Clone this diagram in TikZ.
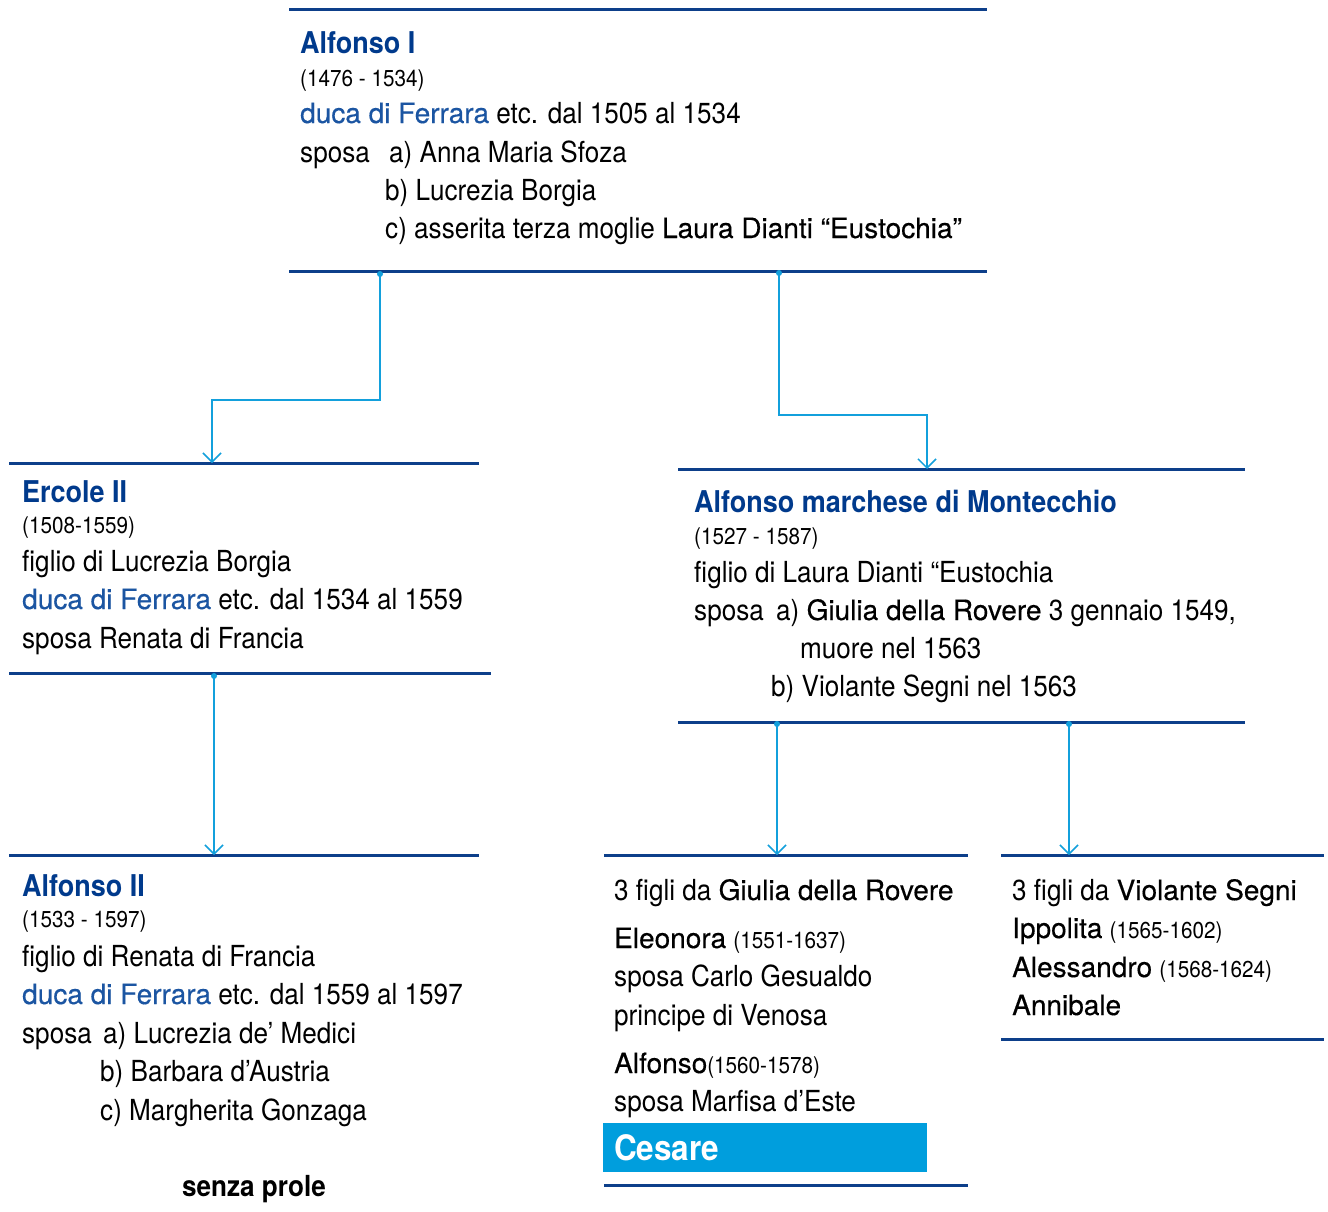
\documentclass[tikz,border=0pt]{standalone}
\usepackage{fontspec}
\setmainfont{TeX Gyre Heros}
\newfontfamily\fLight[FakeStretch=0.9]{TeX Gyre Heros}
\newfontfamily\fMed[FakeBold=0.4]{TeX Gyre Heros}
\newfontfamily\fBold[FakeStretch=0.9]{TeX Gyre Heros}
\usetikzlibrary{arrows.meta,calc}
\definecolor{tblue}{HTML}{003A8C}
\definecolor{dblue}{HTML}{1B55A2}
\definecolor{rblue}{HTML}{0D3F8A}
\definecolor{cblue}{HTML}{13A0DC}
\definecolor{cfill}{HTML}{009EDD}
\newcommand\mdt[1]{{\fMed\fontsize{28}{34}\selectfont #1}}
\newcommand\duca{{\fMed\fontsize{28}{34}\selectfont\color{dblue}duca di Ferrara}}
\newcommand\dts[1]{{\fLight\fontsize{23}{28}\selectfont #1}}
\tikzset{
  blk/.style={rectangle, inner sep=0pt, outer sep=0pt, anchor=north west},
  ln/.style={anchor=base west, inner sep=0pt, font={\fLight\fontsize{29}{34}\selectfont}},
  ttl/.style={anchor=base west, inner sep=0pt, text=tblue, font={\fBold\bfseries\fontsize{30}{34}\selectfont}},
  dtl/.style={anchor=base west, inner sep=0pt, font={\fLight\fontsize{23}{28}\selectfont}},
  rule/.style={line width=3pt, draw=rblue},
  conn/.style={line width=1.5pt, draw=cblue, -{Straight Barb[length=9pt,width=18pt,line width=1.5pt]}},
  dot/.style={circle, fill=cblue, inner sep=0pt, minimum size=6pt}
}
\begin{document}
\begin{tikzpicture}[x=1pt,y=-1pt]
\fill[white] (0,0) rectangle (1328,1211);
\path[use as bounding box] (0,0) rectangle (1328,1211);

% blocks
\node[blk, minimum width=698pt, minimum height=262pt] (alf1) at (289,9) {};
\node[blk, minimum width=470pt, minimum height=210pt] (erc) at (9,463) {};
\node[blk, minimum width=567pt, minimum height=253pt] (mon) at (678,469) {};
\node[blk, minimum width=470pt, minimum height=340pt] (alf2) at (9,855) {};
\node[blk, minimum width=364pt, minimum height=330pt] (gch) at (604,855) {};
\node[blk, minimum width=323pt, minimum height=184pt] (vch) at (1001,855) {};

% rules
\draw[rule] (alf1.north west) -- (alf1.north east);
\draw[rule] (alf1.south west) -- (alf1.south east);
\draw[rule] (erc.north west) -- (erc.north east);
\draw[rule] (erc.south west) -- ($(erc.south east)+(12,0)$);
\draw[rule] (mon.north west) -- (mon.north east);
\draw[rule] (mon.south west) -- (mon.south east);
\draw[rule] (alf2.north west) -- (alf2.north east);
\draw[rule] (gch.north west) -- (gch.north east);
\draw[rule] (gch.south west) -- (gch.south east);
\draw[rule] (vch.north west) -- (vch.north east);
\draw[rule] (vch.south west) -- (vch.south east);

% Alfonso I
\node[ttl] (t1) at (300,53) {Alfonso I};
\node[dtl] (t1d) at (300,86) {(1476 - 1534)};
\node[ln] (t1a) at (300,123) {\duca{} etc. dal 1505 al 1534};
\node[ln] (t1b) at (300,162) {\makebox[89pt][l]{sposa}a) Anna Maria Sfoza};
\node[ln] (t1c) at (385,200) {b) Lucrezia Borgia};
\node[ln] (t1e) at (385,238) {c) asserita terza moglie \mdt{Laura Dianti “Eustochia”}};

% Ercole II
\node[ttl] (t2) at (22,502) {Ercole II};
\node[dtl] (t2d) at (22,533) {(1508-1559)};
\node[ln] (t2a) at (22,571) {figlio di Lucrezia Borgia};
\node[ln] (t2b) at (22,609) {\duca{} etc. dal 1534 al 1559};
\node[ln] (t2c) at (22,648) {sposa Renata di Francia};

% Montecchio
\node[ttl] (t3) at (694,512) {Alfonso marchese di Montecchio};
\node[dtl] (t3d) at (694,544) {(1527 - 1587)};
\node[ln] (t3a) at (694,582) {figlio di Laura Dianti “Eustochia};
\node[ln] (t3b) at (694,620) {\makebox[82pt][l]{sposa}a) \mdt{Giulia della Rovere} 3 gennaio 1549,};
\node[ln] (t3c) at (800,658) {muore nel 1563};
\node[ln] (t3e) at (771,696) {b) Violante Segni nel 1563};

% Alfonso II
\node[ttl] (t4) at (22,896) {Alfonso II};
\node[dtl] (t4d) at (22,927) {(1533 - 1597)};
\node[ln] (t4a) at (22,966) {figlio di Renata di Francia};
\node[ln] (t4b) at (22,1004) {\duca{} etc. dal 1559 al 1597};
\node[ln] (t4c) at (22,1043) {\makebox[81pt][l]{sposa}a) Lucrezia de’ Medici};
\node[ln] (t4e) at (100,1081) {b) Barbara d’Austria};
\node[ln] (t4f) at (100,1120) {c) Margherita Gonzaga};
\node[anchor=base west, inner sep=0pt, font={\fBold\bfseries\fontsize{29}{34}\selectfont}] (t4g) at (182,1196) {senza prole};

% figli Giulia
\node[ln] (t5) at (614,900) {3 figli da \mdt{Giulia della Rovere}};
\node[ln] (t5a) at (614,948) {\mdt{Eleonora} \dts{(1551-1637)}};
\node[ln] (t5b) at (614,986) {sposa Carlo Gesualdo};
\node[ln] (t5c) at (614,1025) {principe di Venosa};
\node[ln] (t5e) at (614,1073) {\mdt{Alfonso}\dts{(1560-1578)}};
\node[ln] (t5f) at (614,1111) {sposa Marfisa d’Este};
\node[blk, fill=cfill, minimum width=324pt, minimum height=49pt] (ces) at (603,1123) {};
\node[anchor=base west, inner sep=0pt, text=white, font={\fBold\bfseries\fontsize{35}{40}\selectfont}] (cest) at (614,1160) {Cesare};

% figli Violante
\node[ln] (t6) at (1012,900) {3 figli da \mdt{Violante Segni}};
\node[ln] (t6a) at (1012,938) {\mdt{Ippolita} \dts{(1565-1602)}};
\node[ln] (t6b) at (1012,977) {\mdt{Alessandro} \dts{(1568-1624)}};
\node[ln] (t6c) at (1012,1015) {\mdt{Annibale}};

% connectors
\node[dot] (d1) at (380,274) {};
\node[dot] (d2) at (779,273) {};
\node[dot] (d3) at (214,676) {};
\node[dot] (d4) at (777,724) {};
\node[dot] (d5) at (1069,724) {};
\coordinate (k1) at (212,400);
\coordinate (k2) at (927,415);
\draw[conn] (d1.center) |- (k1) -- (k1 |- erc.north);
\draw[conn] (d2.center) |- (k2) -- (k2 |- mon.north);
\draw[conn] (d3.center) -- (d3.center |- alf2.north);
\draw[conn] (d4.center) -- (d4.center |- gch.north);
\draw[conn] (d5.center) -- (d5.center |- vch.north);
\end{tikzpicture}
\end{document}
